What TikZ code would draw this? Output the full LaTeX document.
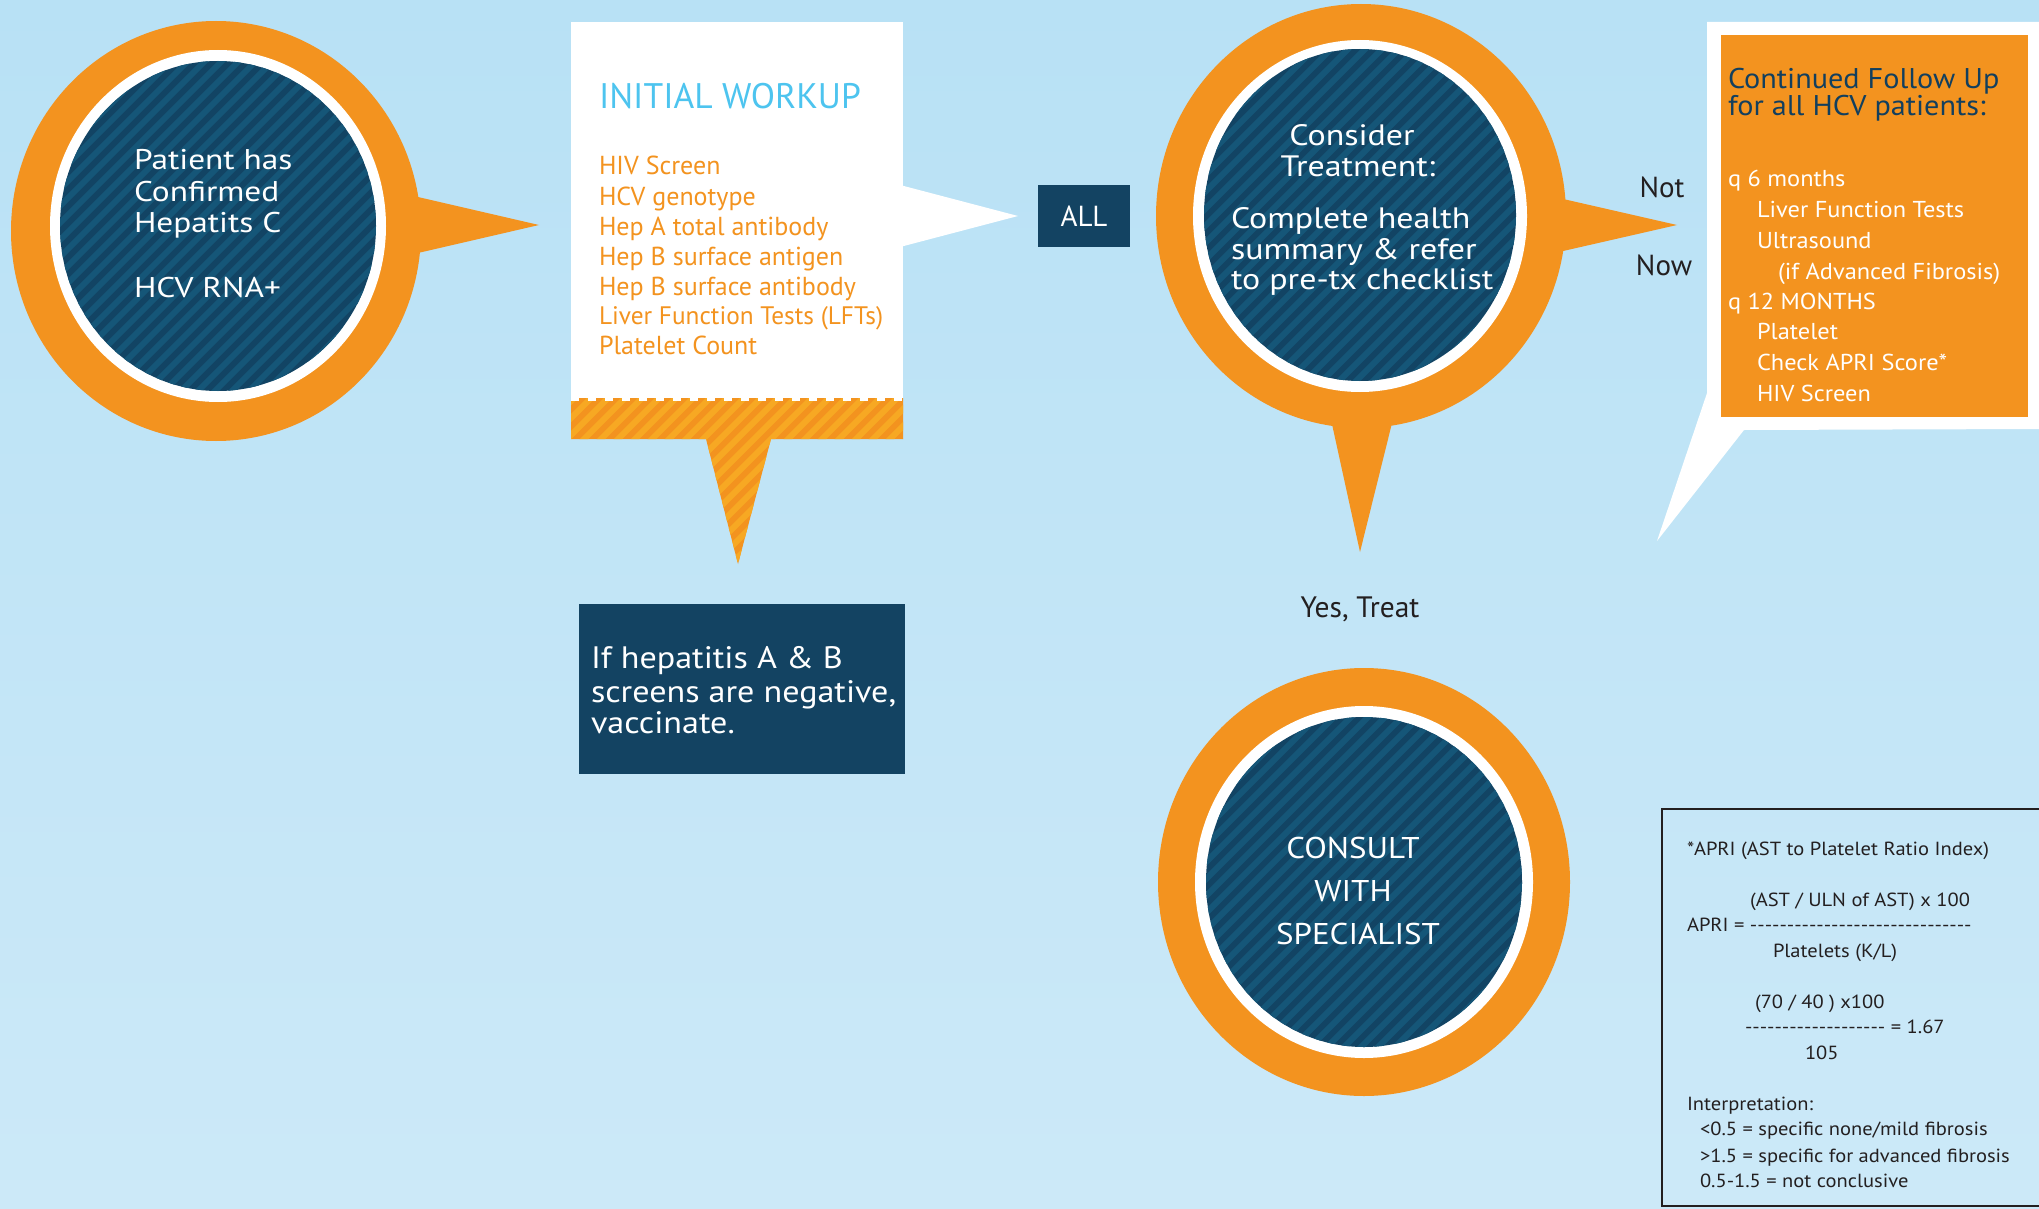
\documentclass[tikz,border=0pt]{standalone}
\usepackage{fontspec}
\setmainfont{PT Sans}
\newfontfamily\circfont{PT Sans}[FakeStretch=1.17]
\newfontfamily\circtwofont{PT Sans}[FakeStretch=1.15]
\newfontfamily\consultfont{PT Sans}[FakeStretch=1.1]
\newfontfamily\vacfont{PT Sans}[FakeStretch=1.1]
\newfontfamily\follfont{PT Sans}[FakeStretch=1.06]
\newfontfamily\aprifont{PT Sans}[FakeStretch=1.08]
\definecolor{bgtop}{HTML}{B8E1F5}
\definecolor{bgbot}{HTML}{CCE9F8}
\definecolor{org}{HTML}{F3931F}
\definecolor{orglt}{HTML}{F7A823}
\definecolor{navy}{HTML}{124464}
\definecolor{navylt}{HTML}{155678}
\definecolor{boxnavy}{HTML}{134362}
\definecolor{skytext}{HTML}{4DC4EF}
\definecolor{darktext}{HTML}{231F20}
\definecolor{titlenavy}{HTML}{123F5E}
\newcommand\fs[1]{\fontsize{#1}{#1}\selectfont}
\newcount\hyc
\newcommand\hyphens[1]{\hyc=#1\relax\loop-\kern0pt\advance\hyc by -1\relax\ifnum\hyc>0\repeat}
\tikzset{
  txt/.style={anchor=base west, inner sep=0pt, outer sep=0pt},
  ctxt/.style={anchor=base, inner sep=0pt, outer sep=0pt},
  navystripe/.style={navylt, line width=6pt},
  orgstripe/.style={orglt, line width=6pt},
  bubble/.style={fill=org},
  circtext/.style={text=white, font=\circfont\fs{28.5}},
  circtwo/.style={text=white, font=\circtwofont\fs{29.5}},
  worktext/.style={txt, text=org, font=\fs{26}},
  folltext/.style={txt, text=white, font=\follfont\fs{23}},
  apritext/.style={txt, text=darktext, font=\aprifont\fs{19}},
}
\begin{document}
\begin{tikzpicture}[x=1pt,y=-1pt]
\useasboundingbox (0,0) rectangle (2039,1209);
\shade[top color=bgtop,bottom color=bgbot] (0,0) rectangle (2039,1209);

% ---------- circle 1 ----------
\coordinate (c1) at (218,226);
\fill[bubble] (216,231) ellipse [x radius=205, y radius=210];
\fill[bubble] (405,194) -- (539,225) -- (405,256) -- cycle;
\fill[white] (c1) ellipse [x radius=168, y radius=176];
\fill[navy] (c1) ellipse [x radius=158, y radius=165];
\begin{scope}
  \clip (c1) ellipse [x radius=158, y radius=165];
  \foreach \s in {-450,-433,...,450} \draw[navystripe] (c1) ++(\s-220,220) -- ++(440,-440);
\end{scope}
\node[txt, circtext] (p1) at (134,170) {Patient has};
\node[txt, circtext] (p2) at (134,202) {Confirmed};
\node[txt, circtext] (p3) at (134,233) {Hepatits C};
\node[txt, circtext] (p4) at (134,297) {HCV RNA+};

% ---------- initial workup ----------
\fill[white] (571,22) rectangle (903,399);
\fill[white] (900,185) -- (1018,216) -- (900,247) -- cycle;
\path[fill=org] (571,398) -- (903,398) -- (903,439) -- (771,439) -- (738,564) -- (706,439) -- (571,439) -- cycle;
\begin{scope}
  \clip (571,398) -- (903,398) -- (903,439) -- (771,439) -- (738,564) -- (706,439) -- (571,439) -- cycle;
  \foreach \s in {-300,-283,...,500} \draw[orgstripe] (571,480) ++(\s-100,100) -- ++(300,-300);
\end{scope}
\draw[white, line width=3.5pt, dash pattern=on 8pt off 9pt] (571,399.5) -- (903,399.5);
\node[txt, text=skytext, font=\fs{35.5}] (w0) at (599,109) {INITIAL WORKUP};
\node[worktext] (w1) at (599,175) {HIV Screen};
\node[worktext] (w2) at (599,205) {HCV genotype};
\node[worktext] (w3) at (599,235) {Hep A total antibody};
\node[worktext] (w4) at (599,265) {Hep B surface antigen};
\node[worktext] (w5) at (599,295) {Hep B surface antibody};
\node[worktext, font=\fs{25.3}] (w6) at (599,324) {Liver Function Tests (LFTs)};
\node[worktext] (w7) at (599,354) {Platelet Count};

% ---------- ALL ----------
\fill[boxnavy] (1038,185) rectangle (1130,247);
\node[text=white, font=\fs{29}, inner sep=0pt] (all) at (1084,216) {ALL};

% ---------- vaccinate box ----------
\fill[boxnavy] (579,604) rectangle (905,774);
\node[txt, text=white, font=\vacfont\fs{31}] (v1) at (591,668) {If hepatitis A \& B};
\node[txt, text=white, font=\vacfont\fs{31}] (v2) at (591,702) {screens are negative,};
\node[txt, text=white, font=\vacfont\fs{31}] (v3) at (591,733) {vaccinate.};

% ---------- circle 2 ----------
\coordinate (c2) at (1360,215);
\fill[bubble] (1361,216) ellipse [x radius=205, y radius=212];
\fill[bubble] (1550,196) -- (1677,225) -- (1550,254) -- cycle;
\fill[bubble] (1330,415) -- (1360,552) -- (1394,415) -- cycle;
\fill[white] (1360,216) ellipse [x radius=167, y radius=176];
\fill[navy] (c2) ellipse [x radius=156, y radius=166];
\begin{scope}
  \clip (c2) ellipse [x radius=156, y radius=166];
  \foreach \s in {-450,-433,...,450} \draw[navystripe] (c2) ++(\s-220,220) -- ++(440,-440);
\end{scope}
\node[ctxt, circtwo] (t1) at (1352,146) {Consider};
\node[ctxt, circtwo] (t2) at (1358,177) {Treatment:};
\node[txt, circtwo] (t3) at (1231,229) {Complete health};
\node[txt, circtwo] (t4) at (1231,259) {summary \& refer};
\node[txt, circtwo] (t5) at (1231,289) {to pre-tx checklist};

\node[ctxt, text=darktext, font=\fs{29}] (not) at (1662,198) {Not};
\node[ctxt, text=darktext, font=\fs{29}] (now) at (1664,275) {Now};
\node[ctxt, text=darktext, font=\fs{29.5}] (yes) at (1360,617) {Yes, Treat};

% ---------- follow up callout ----------
\fill[white] (1707,22) -- (2039,22) -- (2039,429) -- (1744,430) -- (1657,541) -- (1707,393) -- cycle;
\fill[org] (1721,35) rectangle (2028,417);
\node[txt, text=titlenavy, font=\follfont\fs{28.5}] (f0) at (1728,89) {Continued Follow Up};
\node[txt, text=titlenavy, font=\follfont\fs{28.5}] (f1) at (1728,116) {for all HCV patients:};
\node[folltext] (f2) at (1728,187) {q 6 months};
\node[folltext] (f3) at (1757,218) {Liver Function Tests};
\node[folltext] (f4) at (1757,248) {Ultrasound};
\node[folltext] (f5) at (1778,279) {(if Advanced Fibrosis)};
\node[folltext] (f6) at (1728,309) {q 12 MONTHS};
\node[folltext] (f7) at (1757,339) {Platelet};
\node[folltext] (f8) at (1757,370) {Check APRI Score*};
\node[folltext] (f9) at (1757,401) {HIV Screen};

% ---------- circle 3 ----------
\coordinate (c3) at (1364,882);
\fill[bubble] (c3) ellipse [x radius=206, y radius=214];
\fill[white] (c3) ellipse [x radius=169, y radius=176];
\fill[navy] (c3) ellipse [x radius=158, y radius=165];
\begin{scope}
  \clip (c3) ellipse [x radius=158, y radius=165];
  \foreach \s in {-450,-433,...,450} \draw[navystripe] (c3) ++(\s-220,220) -- ++(440,-440);
\end{scope}
\node[ctxt, text=white, font=\consultfont\fs{30}] (s1) at (1353,858) {CONSULT};
\node[ctxt, text=white, font=\consultfont\fs{30}] (s2) at (1353,901) {WITH};
\node[ctxt, text=white, font=\consultfont\fs{30}] (s3) at (1358,944) {SPECIALIST};

% ---------- APRI box ----------
\draw[darktext, line width=2.5pt] (1662,809) rectangle (2042,1206);
\node[apritext] (a1) at (1687,855) {*APRI (AST to Platelet Ratio Index)};
\node[apritext] (a2) at (1750,906) {(AST / ULN of AST) x 100};
\node[apritext] (a3) at (1687,931) {APRI = \hyphens{30}};
\node[apritext] (a4) at (1773,957) {Platelets (K/L)};
\node[apritext] (a5) at (1755,1008) {(70 / 40 ) x100};
\node[apritext] (a6) at (1745,1033) {\hyphens{19} = 1.67};
\node[apritext] (a7) at (1805,1059) {105};
\node[apritext] (a8) at (1687,1110) {Interpretation:};
\node[apritext] (a9) at (1700,1135) {<0.5 = specific none/mild fibrosis};
\node[apritext] (a10) at (1700,1162) {>1.5 = specific for advanced fibrosis};
\node[apritext] (a11) at (1700,1187) {0.5-1.5 = not conclusive};
\end{tikzpicture}
\end{document}
